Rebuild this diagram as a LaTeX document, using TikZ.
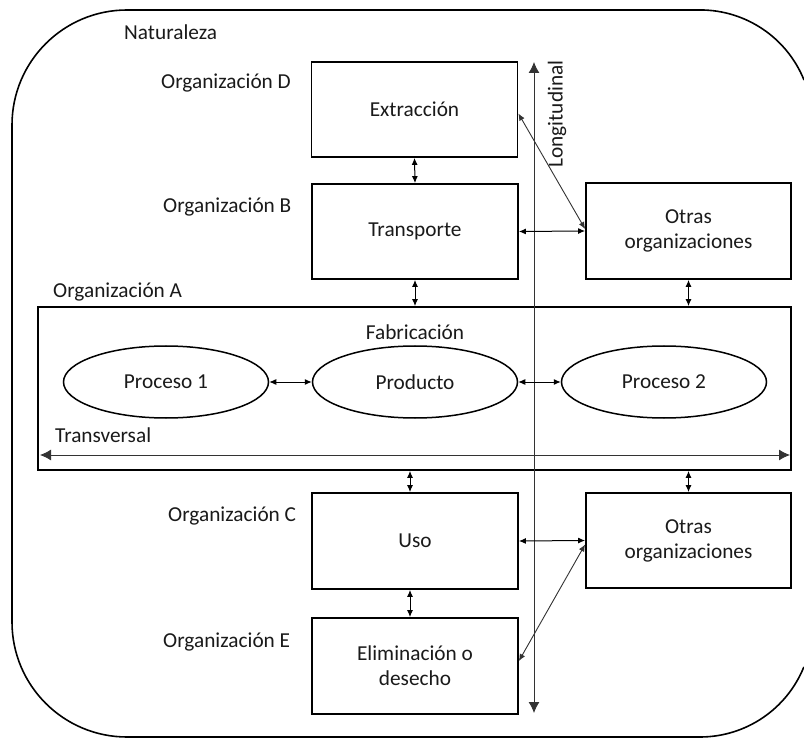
\documentclass[tikz,border=0pt]{standalone}
\usepackage{fontspec}
\setmainfont{Carlito}
\usetikzlibrary{arrows.meta,calc,shapes.geometric}
\definecolor{txt}{HTML}{1A1A1A}
\definecolor{conn}{HTML}{333333}
\tikzset{
  lbl/.style={font=\fontsize{21.3}{25}\selectfont, text=txt, inner sep=0pt},
  box/.style={draw=black, line width=1.8pt, minimum width=206pt, minimum height=95pt,
              font=\fontsize{21.3}{25}\selectfont, text=txt, align=center, inner sep=0pt},
  oval/.style={draw=black, ellipse, line width=1.5pt, minimum width=205pt, minimum height=72pt,
              font=\fontsize{21.3}{25}\selectfont, text=txt, inner sep=0pt},
  dbl/.style={line width=1pt, {Latex[length=7pt,width=6pt]}-{Latex[length=7pt,width=6pt]}},
  diag/.style={draw=conn, line width=0.9pt, {Latex[length=7pt,width=6pt]}-{Latex[length=7pt,width=6pt]}},
  axisb/.style={draw=conn, line width=0.9pt, {Latex[length=11pt,width=11pt]}-{Latex[length=11pt,width=11pt]}},
  outer/.style={draw=black, line width=1.6pt},
}
\begin{document}
\begin{tikzpicture}[x=1pt,y=-1pt]
\fill[white] (0,0) rectangle (804,738);
\useasboundingbox (0,0) rectangle (804,738);
% Naturaleza: its right side lies beyond the page
\draw[outer] (804,80) arc[start angle=22, end angle=90, radius=112pt] -- (127,10)
  arc[start angle=90, end angle=180, radius=115pt] -- (12,622)
  arc[start angle=180, end angle=270, radius=115pt] -- (700,737)
  arc[start angle=270, end angle=338, radius=112pt];
\node[lbl, anchor=west] (nat) at (124,32) {Naturaleza};
% boxes
\node[box] (ext) at (414.5,109.5) {Extracción};
\node[box] (tra) at (415,231.5) {Transporte};
\node[box, minimum width=205pt, minimum height=96pt] (otr1) at (688.5,231) {Otras\\organizaciones};
\node[draw=black, line width=1.8pt, minimum width=753pt, minimum height=163pt, inner sep=0pt] (fab) at (414.5,388.5) {};
\node[box, minimum height=96pt] (uso) at (415,541) {Uso};
\node[box, minimum height=96pt] (eli) at (415,666) {Eliminación o\\desecho};
\node[box, minimum width=205pt] (otr2) at (688.5,540.5) {Otras\\organizaciones};
% ellipses
\node[oval] (p1) at (166,382) {Proceso 1};
\node[oval] (prod) at (415,382) {Producto};
\node[oval] (p2) at (664,382) {Proceso 2};
% labels
\node[lbl, anchor=west] (orgD) at (161,83) {Organización D};
\node[lbl, anchor=west] (orgB) at (163,207) {Organización B};
\node[lbl, anchor=west] (orgA) at (53,292) {Organización A};
\node[lbl, anchor=west] (orgC) at (168,516) {Organización C};
\node[lbl, anchor=west] (orgE) at (163,642) {Organización E};
\node[lbl] (fabt) at (415,332) {Fabricación};
\node[lbl, anchor=west] (trv) at (55,435) {Transversal};
\node[lbl, rotate=90] (lon) at (557,114) {Longitudinal};
% axes
\coordinate (axT) at (534,62);
\coordinate (axB) at (534,713);
\draw[axisb] (axB) -- (axT);
\coordinate (trL) at (40,455);
\coordinate (trR) at (790,455);
\draw[axisb] (trL) -- (trR);
% vertical connectors
\draw[dbl] (ext.south) -- (tra.north);
\draw[dbl] (tra.south) -- (tra.south |- fab.north);
\coordinate (cu) at ($(uso.north)+(-5,0)$);
\draw[dbl] (cu |- fab.south) -- (cu);
\coordinate (ce) at ($(uso.south)+(-5,0)$);
\draw[dbl] (ce) -- (ce |- eli.north);
\draw[dbl] (otr1.south) -- (otr1.south |- fab.north);
\draw[dbl] (otr2.north |- fab.south) -- (otr2.north);
% ellipse connectors
\draw[dbl] (p1.east) -- (prod.west);
\draw[dbl] (prod.east) -- (p2.west);
% side connectors
\draw[dbl] (tra.east) -- (otr1.west);
\draw[diag] ($(ext.east)+(0,4)$) -- ($(otr1.west)+(0,-2)$);
\draw[dbl] (uso.east) -- (otr2.west);
\draw[diag] ($(eli.east)+(0,-5)$) -- ($(otr2.west)+(0,4)$);
\end{tikzpicture}
\end{document}
